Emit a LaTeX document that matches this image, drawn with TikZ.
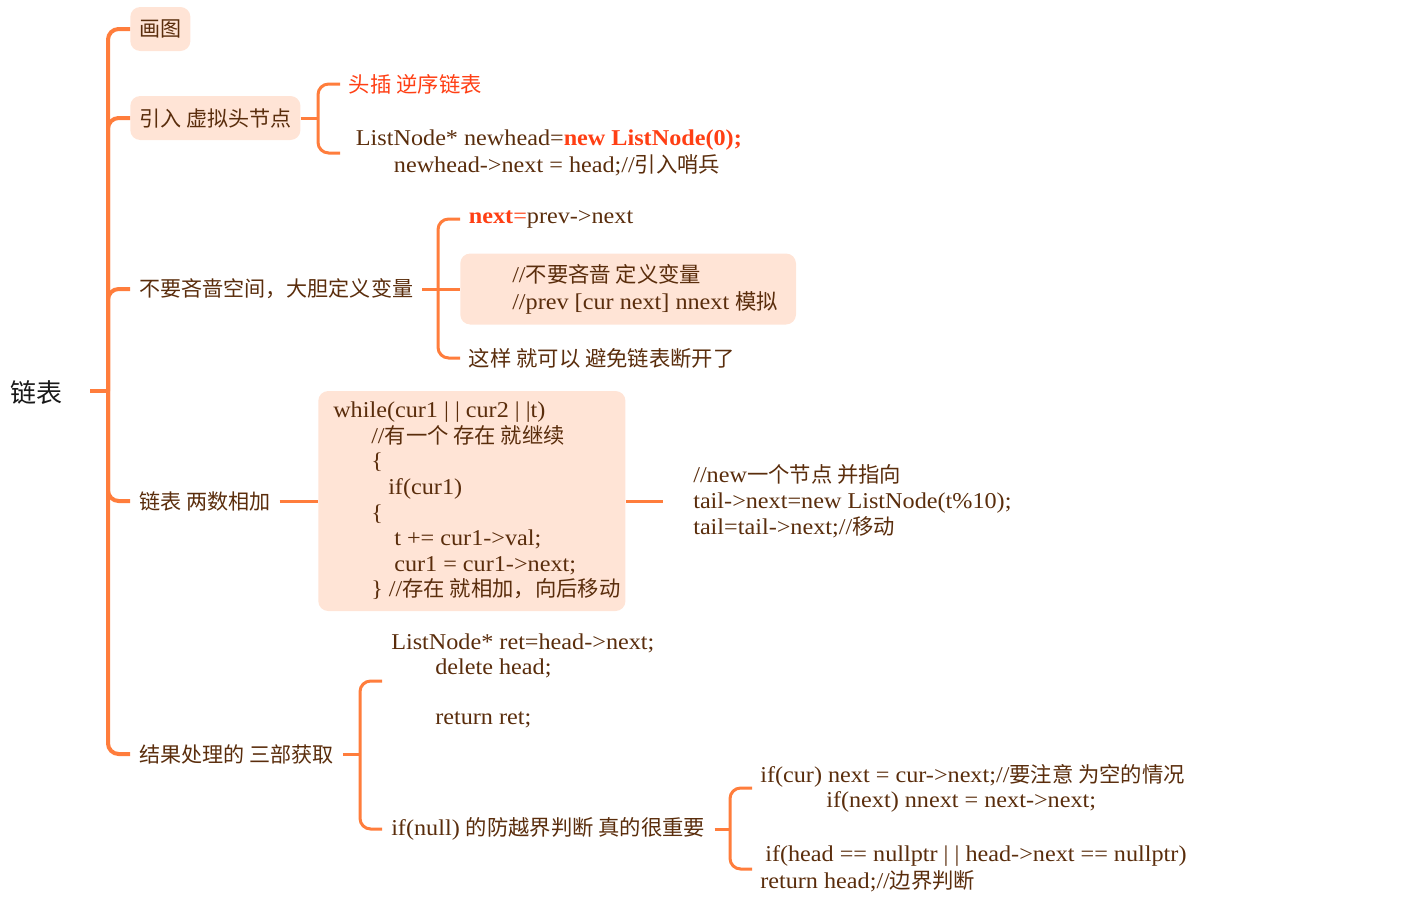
\documentclass[tikz,border=0pt]{standalone}
\usepackage{fontspec}
\setmainfont{Liberation Serif}[Scale=1.06, FakeStretch=1.07]
\newfontfamily\cjkfont{Noto Sans CJK SC}
\newcommand\zhs[1]{{\cjkfont #1}}
\definecolor{txt}{HTML}{5A2D0C}
\definecolor{hl}{HTML}{FF3F14}
\definecolor{ln}{HTML}{FF7D3C}
\definecolor{bx}{HTML}{FFE4D6}
\tikzset{
  every node/.style={text=txt, font=\fontsize{16}{19.2}\selectfont, inner ysep=0pt, align=left, anchor=west},
  mainnode/.style={inner xsep=6.75pt, font=\fontsize{15.8}{19}\selectfont},
  mainbox/.style={mainnode, fill=bx, rounded corners=7.5pt, minimum height=33pt},
  rootnode/.style={inner xsep=0pt, text=black!90, font=\fontsize{19.5}{22}\selectfont},
  trunk/.style={draw=ln, line width=3pt, rounded corners=8pt},
  sub/.style={draw=ln, line width=2.25pt, rounded corners=8pt},
  child/.style={inner xsep=6.5pt},
  codebox/.style={fill=bx, rounded corners=7.5pt},
}
\begin{document}
\begin{tikzpicture}[x=0.75pt,y=-0.75pt]
\useasboundingbox (0,0) rectangle (1421,918);
% root
\node[rootnode] (root) at (10,393) {\zhs{链表}};
\coordinate (r0) at (90,391);
\coordinate (j0) at (108,391);
% main branches
\node[mainbox] (b1) at (130,29) {\zhs{画图}};
\node[mainbox] (b2) at (130,118) {\zhs{引入 虚拟头节点}};
\node[mainnode] (b3) at (130,289) {\zhs{不要吝啬空间，大胆定义变量}};
\node[mainnode] (b4) at (130,501) {\zhs{链表 两数相加}};
\node[mainnode] (b5) at (130,754) {\zhs{结果处理的 三部获取}};
\draw[trunk] (r0) -- (j0);
\draw[trunk] (b1.west) -| (j0) |- (b5.west);
\draw[trunk] (j0) |- (b2.west);
\draw[trunk] (j0) |- (b3.west);
\draw[trunk] (j0) |- (b4.west);
% branch 2
\coordinate (k2) at (318,118);
\node[child, text=hl] (c21) at (340,84) {\zhs{头插 逆序链表}};
\node[child, font=\fontsize{16}{20.25}\selectfont] (c22) at (340,153)
  {\hspace*{5.25pt}ListNode* newhead={\color{hl}\bfseries new ListNode(0);}\\
   \hspace*{33.75pt}newhead->next = head;//\zhs{引入哨兵}};
\draw[sub] (b2.east) -- (k2);
\draw[sub] (c21.west) -| (k2) |- (c22.west);
% branch 3
\coordinate (k3) at (438,289);
\node[child] (c31) at (460,219) {{\color{hl}\bfseries next}{\color{hl}=}prev->next};
\node[codebox, inner xsep=8.25pt, minimum height=53.25pt, font=\fontsize{16}{20.25}\selectfont] (c32) at (460,289)
  {\hspace*{30.75pt}//\zhs{不要吝啬 定义变量}\\
   \hspace*{30.75pt}//prev [cur next] nnext \zhs{模拟}\hspace*{5.25pt}};
\node[child] (c33) at (460,358) {\zhs{这样 就可以 避免链表断开了}};
\draw[sub] (b3.east) -- (k3);
\draw[sub] (c31.west) -| (k3) |- (c33.west);
\draw[sub] (k3) -- (c32.west);
% branch 4
\node[codebox, inner xsep=3.75pt, minimum height=165pt] (w) at (318,501)
  {\hspace*{7.5pt}while(cur1 | | cur2 | |t)\\
   \hspace*{36pt}//\zhs{有一个 存在 就继续}\\
   \hspace*{36pt}\{\\
   \hspace*{48.75pt}if(cur1)\\
   \hspace*{36pt}\{\\
   \hspace*{53.25pt}t += cur1->val;\\
   \hspace*{53.25pt}cur1 = cur1->next;\\
   \hspace*{36pt}\} //\zhs{存在 就相加，向后移动}};
\node[inner xsep=22.5pt, font=\fontsize{16}{19.5}\selectfont] (c41) at (663,501)
  {//new\zhs{一个节点 并指向}\\
   tail->next=new ListNode(t\%10);\\
   tail=tail->next;//\zhs{移动}};
\draw[sub] (b4.east) -- (w.west);
\draw[sub] (w.east) -- (c41.west);
% branch 5
\coordinate (k5) at (360,754);
\node[child, inner xsep=6.75pt, font=\fontsize{16}{18.75}\selectfont] (c51) at (382,681)
  {ListNode* ret=head->next;\\
   \hspace*{33pt}delete head;\\
   \mbox{}\\
   \hspace*{33pt}return ret;};
\node[child, inner xsep=6.75pt] (c52) at (382,829) {if(null) \zhs{的防越界判断 真的很重要}};
\draw[sub] (b5.east) -- (k5);
\draw[sub] (c51.west) -| (k5) |- (c52.west);
\coordinate (k6) at (730,829);
\node[child, inner xsep=6pt, font=\fontsize{16}{18.75}\selectfont] (c61) at (752,788)
  {if(cur) next = cur->next;//\zhs{要注意 为空的情况}\\
   \hspace*{49.5pt}if(next) nnext = next->next;};
\node[child, inner xsep=6pt, font=\fontsize{16}{20.25}\selectfont] (c62) at (752,869)
  {\hspace*{3.75pt}if(head == nullptr | | head->next == nullptr)\\
   return head;//\zhs{边界判断}};
\draw[sub] (c52.east) -- (k6);
\draw[sub] (c61.west) -| (k6) |- (c62.west);
\end{tikzpicture}
\end{document}
